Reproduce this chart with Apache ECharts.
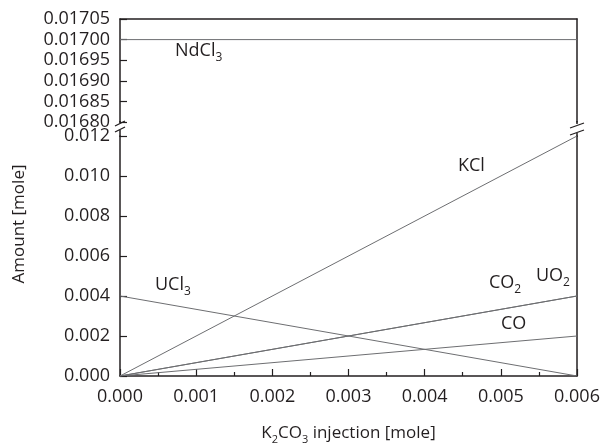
<!DOCTYPE html>
<html>
<head>
<meta charset="utf-8">
<script src="https://cdn.jsdelivr.net/npm/echarts@6/dist/echarts.min.js"></script>
<style>
  html, body { margin: 0; padding: 0; background: #fff; }
  #chart { width: 601px; height: 443px; }
</style>
</head>
<body>
<div id="chart"></div>
<script>
// K2CO3 injection (x), amounts in mole (y)
var injection = [0.000, 0.006];
var ndcl3 = [0.01700, 0.01700];
var kcl   = [0.000, 0.012];
var ucl3  = [0.004, 0.000];
var co2   = [0.000, 0.004];
var uo2   = [0.000, 0.004];
var co    = [0.000, 0.002];

var FONT = 'Open Sans';
var INK = '#231f20';
var LINE = '#6d6e71';

function pairs(ys) {
    return injection.map(function (x, i) { return [x, ys[i]]; });
}

function lineSeries(name, ys, gridIdx) {
    return {
        name: name,
        type: 'line',
        xAxisIndex: gridIdx,
        yAxisIndex: gridIdx === 0 ? 0 : 2,
        data: pairs(ys),
        symbol: 'none',
        silent: true,
        animation: false,
        lineStyle: { color: LINE, width: 1 }
    };
}

// label with subscript, drawn as rich text
function chem(x, y, main, sub) {
    var t = '{m|' + main + '}' + (sub ? '{s|' + sub + '}' : '');
    return {
        type: 'text', left: x, top: y, silent: true,
        style: {
            text: t,
            rich: {
                m: { fontFamily: FONT, fontSize: 18, lineHeight: 26, fill: INK, verticalAlign: 'middle' },
                s: { fontFamily: FONT, fontSize: 12, lineHeight: 17, fill: INK, verticalAlign: 'bottom' }
            }
        }
    };
}

function seg(x1, y1, x2, y2, w) {
    return { type: 'line', silent: true, shape: { x1: x1, y1: y1, x2: x2, y2: y2 },
             style: { stroke: INK, lineWidth: w || 1.3 } };
}

var chart = echarts.init(document.getElementById('chart'));

var option = {
    animation: false,
    backgroundColor: '#fff',
    grid: [
        { left: 120, right: 24, top: 19, height: 103, outerBoundsMode: 'none' },
        { left: 120, right: 24, top: 136, height: 240, outerBoundsMode: 'none' }
    ],
    xAxis: [
        {   // top panel: only the frame line on top
            type: 'value', gridIndex: 0, min: 0, max: 0.006, position: 'top',
            axisLine: { show: true, lineStyle: { color: INK, width: 1.5 } },
            axisTick: { show: false }, axisLabel: { show: false }, splitLine: { show: false }
        },
        {
            type: 'value', gridIndex: 1, min: 0, max: 0.006, interval: 0.001,
            axisLine: { show: true, onZero: false, lineStyle: { color: INK, width: 1.5 } },
            axisTick: { show: true, inside: true, length: 7, lineStyle: { color: INK, width: 1.2 } },
            minorTick: { show: true, splitNumber: 2, length: 4, lineStyle: { color: INK, width: 1.2 } },
            axisLabel: { fontFamily: FONT, fontSize: 18, color: INK, margin: 12,
                         formatter: function (v) { return v.toFixed(3); } },
            splitLine: { show: false },
            name: '{m|K}{s|2}{m|CO}{s|3}{m| injection [mole]}',
            nameLocation: 'middle', nameGap: 45,
            nameTextStyle: {
                rich: {
                    m: { fontFamily: FONT, fontSize: 17, lineHeight: 24, color: INK, verticalAlign: 'middle' },
                    s: { fontFamily: FONT, fontSize: 11, lineHeight: 15, color: INK, verticalAlign: 'bottom' }
                }
            }
        }
    ],
    yAxis: [
        {
            type: 'value', gridIndex: 0, min: 0.01680, max: 0.01705, interval: 0.00005,
            axisLine: { show: true, onZero: false, lineStyle: { color: INK, width: 1.5 } },
            axisTick: { show: true, inside: true, length: 7, lineStyle: { color: INK, width: 1.2 } },
            axisLabel: { fontFamily: FONT, fontSize: 18, color: INK, margin: 10,
                         formatter: function (v) { return v.toFixed(5); } },
            splitLine: { show: false }
        },
        {
            type: 'value', gridIndex: 0, min: 0.01680, max: 0.01705, position: 'right',
            axisLine: { show: true, onZero: false, lineStyle: { color: INK, width: 1.5 } },
            axisTick: { show: false }, axisLabel: { show: false }, splitLine: { show: false }
        },
        {
            type: 'value', gridIndex: 1, min: 0, max: 0.012, interval: 0.002,
            axisLine: { show: true, onZero: false, lineStyle: { color: INK, width: 1.5 } },
            axisTick: { show: true, inside: true, length: 7, lineStyle: { color: INK, width: 1.2 } },
            axisLabel: { fontFamily: FONT, fontSize: 18, color: INK, margin: 10,
                         formatter: function (v) { return v.toFixed(3); } },
            splitLine: { show: false }
        },
        {
            type: 'value', gridIndex: 1, min: 0, max: 0.012, position: 'right',
            axisLine: { show: true, onZero: false, lineStyle: { color: INK, width: 1.5 } },
            axisTick: { show: false }, axisLabel: { show: false }, splitLine: { show: false }
        }
    ],
    series: [
        lineSeries('NdCl3', ndcl3, 0),
        lineSeries('KCl', kcl, 1),
        lineSeries('UCl3', ucl3, 1),
        lineSeries('CO2', co2, 1),
        lineSeries('UO2', uo2, 1),
        lineSeries('CO', co, 1)
    ],
    graphic: [
        chem(175, 42, 'NdCl', '3'),
        chem(458, 157, 'KCl'),
        chem(155, 276, 'UCl', '3'),
        chem(489, 274, 'CO', '2'),
        chem(536, 267, 'UO', '2'),
        chem(501, 315, 'CO'),
        {
            type: 'text', silent: true, x: 19, y: 224, rotation: Math.PI / 2,
            style: { text: 'Amount [mole]', fontFamily: FONT, fontSize: 17, fill: INK,
                     align: 'center', verticalAlign: 'middle' }
        },
        // axis break marks and the bits of frame between the panels
        seg(120, 121, 120, 123, 1.5),
        seg(120, 130, 120, 137, 1.5),
        seg(115, 126, 125, 121),
        seg(115, 132, 125, 127),
        seg(577, 121, 577, 124, 1.5),
        seg(577, 133, 577, 137, 1.5),
        seg(570, 128, 584, 123),
        seg(570, 135, 584, 130)
    ]
};

chart.setOption(option);
</script>
</body>
</html>
